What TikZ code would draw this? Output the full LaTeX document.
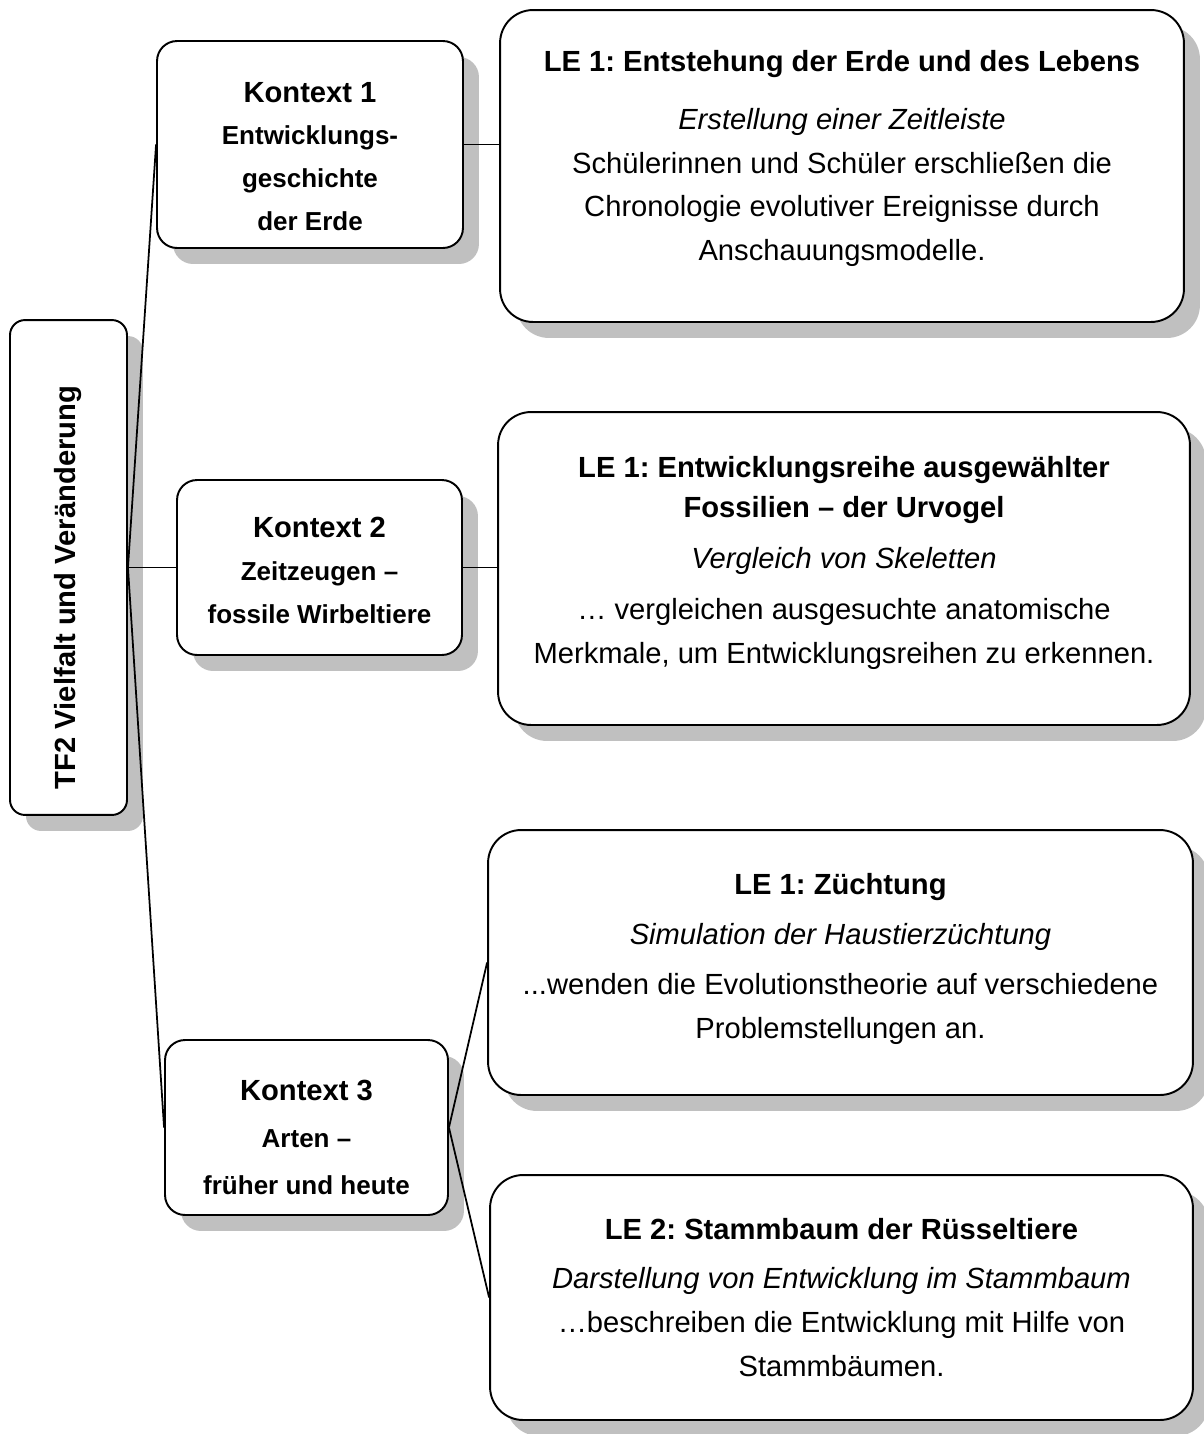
\documentclass[tikz,border=0pt]{standalone}
\usepackage{fontspec}
\setmainfont{Liberation Sans}
\usepackage{graphicx}
\usetikzlibrary{shadows}
\frenchspacing

\definecolor{shadowgray}{RGB}{192,192,192}

\tikzset{
  box/.style={draw, line width=1.1pt, fill=white, align=center, inner sep=0pt,
    drop shadow={shadow xshift=0.32cm, shadow yshift=-0.32cm, fill=shadowgray, opacity=1}},
  tfbox/.style={box, rounded corners=0.3cm, minimum width=2.34cm, minimum height=9.9cm},
  kbox/.style={box, rounded corners=0.4cm, font=\fontsize{14.8}{24.4}\selectfont\bfseries},
  lebox/.style={box, rounded corners=0.66cm, font=\fontsize{16.6}{25}\selectfont},
  link/.style={line width=1pt},
}

\newcommand{\kbig}{\fontsize{16.6}{24.4}\selectfont}

\begin{document}
\begin{tikzpicture}[x=0.02cm, y=-0.02cm]
    \useasboundingbox (0,0) rectangle (1204,1434);

    \node[tfbox] (tf) at (68.5,567.5)
      {\rotatebox{90}{\fontsize{16.6}{25}\selectfont\bfseries TF2 Vielfalt und Veränderung\hspace*{0.8cm}}};

    \node[kbox, minimum width=6.12cm, minimum height=4.14cm] (k1) at (310,144.5)
      {\rule{0pt}{25pt}{\kbig Kontext 1}\\Entwicklungs-\\geschichte\\der Erde};
    \node[kbox, minimum width=5.7cm, minimum height=3.5cm] (k2) at (319.5,567.5)
      {\rule{0pt}{15pt}{\kbig Kontext 2}\\Zeitzeugen --\\fossile Wirbeltiere};
    \node[kbox, minimum width=5.66cm, minimum height=3.5cm] (k3) at (306.5,1127.5)
      {\rule{0pt}{23pt}{\kbig Kontext 3}\\[2.5pt]Arten --\\[2.5pt]früher und heute};

    \node[lebox, minimum width=13.68cm, minimum height=6.24cm] (le1) at (842,166)
      {\textbf{LE 1: Entstehung der Erde und des Lebens}\\[8pt]
       \textit{Erstellung einer Zeitleiste}\\
       Schülerinnen und Schüler erschließen die\\
       Chronologie evolutiver Ereignisse durch\\
       Anschauungsmodelle.\rule[-12pt]{0pt}{12pt}};
    \node[lebox, minimum width=13.84cm, minimum height=6.26cm] (le1b) at (844,568.5)
      {\textbf{LE 1: Entwicklungsreihe ausgewählter}\\[-2pt]
       \textbf{Fossilien – der Urvogel}\\[4pt]
       \textit{Vergleich von Skeletten}\\[4pt]
       … vergleichen ausgesuchte anatomische\\
       Merkmale, um Entwicklungsreihen zu erkennen.\rule[-10pt]{0pt}{10pt}};
    \node[lebox, minimum width=14.1cm, minimum height=5.3cm] (le1c) at (840.5,962.5)
      {\textbf{LE 1: Züchtung}\\[4pt]
       \textit{Simulation der Haustierzüchtung}\\[3pt]
       ...wenden die Evolutionstheorie auf verschiedene\\
       Problemstellungen an.\rule[-8pt]{0pt}{8pt}};
    \node[lebox, minimum width=14.06cm, minimum height=4.9cm] (le2) at (841.5,1297.5)
      {\textbf{LE 2: Stammbaum der Rüsseltiere}\\[3pt]
       \textit{Darstellung von Entwicklung im Stammbaum}\\
       …beschreiben die Entwicklung mit Hilfe von\\
       Stammbäumen.};

\draw[link] (tf.east) -- (k1.west);
\draw[link] (tf.east) -- (k2.west);
\draw[link] (tf.east) -- (k3.west);

\draw[link] (k1.east) -- (le1.west |- k1.east);
\draw[link] (k2.east) -- (le1b.west |- k2.east);

\draw[link] (k3.east) -- (le1c.west);
\draw[link] (k3.east) -- (le2.west);

\end{tikzpicture}
\end{document}
